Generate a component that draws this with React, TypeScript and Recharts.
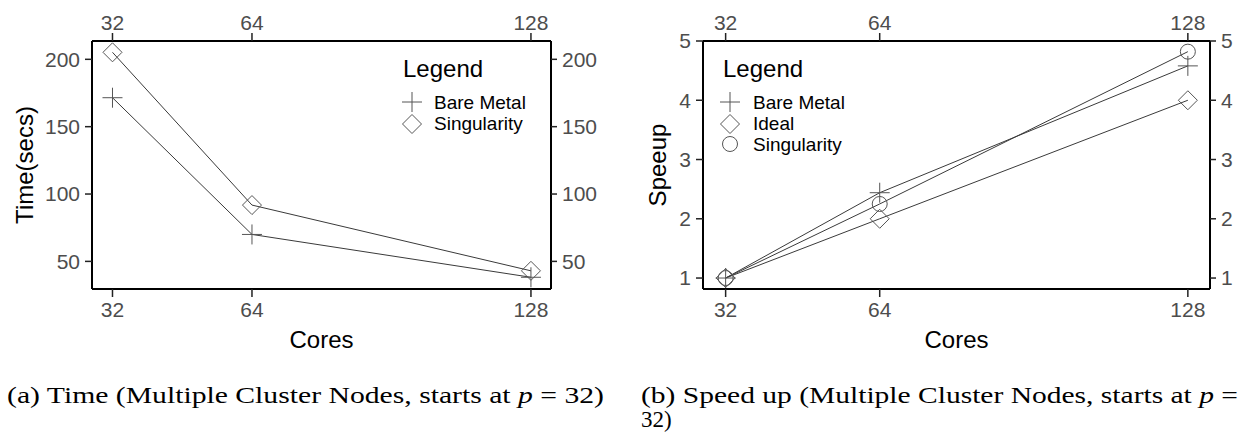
import { LineChart, Line, XAxis, YAxis } from 'recharts'

// values
const cores = [32, 64, 128]
const coreTicks = [32, 64, 128]
const coreDomain = [27.3, 132.6]

const timeBareMetal = [171.5, 70, 38.2]
const timeSingularity = [205.2, 91.8, 43]
const timeTicks = [50, 100, 150, 200]
const timeDomain = [29.5, 213.6]

const speedBareMetal = [1, 2.44, 4.58]
const speedIdeal = [1, 2, 4]
const speedSingularity = [1, 2.25, 4.82]
const speedTicks = [1, 2, 3, 4, 5]
const speedDomain = [0.815, 5]

const timeData = cores.map((c, i) => ({
  cores: c,
  bare: timeBareMetal[i],
  sing: timeSingularity[i]
}))

const speedData = cores.map((c, i) => ({
  cores: c,
  bare: speedBareMetal[i],
  ideal: speedIdeal[i],
  sing: speedSingularity[i]
}))

const SANS = '"Liberation Sans", Arial, Helvetica, sans-serif'
const SERIF = '"Liberation Serif", "Times New Roman", serif'
const LINE = '#3a3a3a'
const MARK = '#555555'
const TICK_TEXT = '#4d4d4d'

const tickStyle = { fill: TICK_TEXT, fontSize: 21, fontFamily: SANS }
const axisLine = { stroke: '#000', strokeWidth: 2 }
const tickLine = { stroke: '#222', strokeWidth: 1.5 }

function PlusMark({ cx, cy, s = 10 }: { cx: number; cy: number; s?: number }) {
  return (
    <path
      d={`M${cx - s},${cy}H${cx + s}M${cx},${cy - s}V${cy + s}`}
      stroke={MARK}
      strokeWidth={1}
      fill="none"
    />
  )
}

function DiamondMark({ cx, cy, s = 9.5 }: { cx: number; cy: number; s?: number }) {
  return (
    <path
      d={`M${cx},${cy - s}L${cx + s},${cy}L${cx},${cy + s}L${cx - s},${cy}Z`}
      stroke={MARK}
      strokeWidth={1}
      fill="none"
    />
  )
}

function RingMark({ cx, cy, r = 7.5 }: { cx: number; cy: number; r?: number }) {
  return <circle cx={cx} cy={cy} r={r} stroke={MARK} strokeWidth={1} fill="none" />
}

const plusDot = (p: any) => <PlusMark key={`p${p.index}`} cx={p.cx} cy={p.cy} />
const diamondDot = (p: any) => <DiamondMark key={`d${p.index}`} cx={p.cx} cy={p.cy} />
const ringDot = (p: any) => <RingMark key={`r${p.index}`} cx={p.cx} cy={p.cy} />

function Axes({ yTicks, yDomain, leftW, rightW, title, titleOffset }: any) {
  return [
    <XAxis
      key="xt"
      xAxisId="top"
      orientation="top"
      type="number"
      dataKey="cores"
      domain={coreDomain}
      ticks={coreTicks}
      allowDataOverflow
      height={41}
      tick={tickStyle}
      tickSize={8}
      tickMargin={3}
      axisLine={axisLine}
      tickLine={tickLine}
    />,
    <XAxis
      key="xb"
      xAxisId="bottom"
      orientation="bottom"
      type="number"
      dataKey="cores"
      domain={coreDomain}
      ticks={coreTicks}
      allowDataOverflow
      height={71}
      tick={tickStyle}
      tickSize={8}
      tickMargin={5}
      axisLine={axisLine}
      tickLine={tickLine}
      label={{ value: 'Cores', position: 'insideBottom', offset: 12, fill: '#000', fontSize: 24, fontFamily: SANS }}
    />,
    <YAxis
      key="yl"
      yAxisId="left"
      orientation="left"
      type="number"
      domain={yDomain}
      ticks={yTicks}
      allowDataOverflow
      width={leftW}
      tick={tickStyle}
      tickSize={7}
      tickMargin={5}
      axisLine={axisLine}
      tickLine={tickLine}
      label={{
        value: title,
        angle: -90,
        position: 'insideLeft',
        offset: titleOffset,
        fill: '#000',
        fontSize: 24,
        fontFamily: SANS,
        style: { textAnchor: 'middle' }
      }}
    />,
    <YAxis
      key="yr"
      yAxisId="right"
      orientation="right"
      type="number"
      domain={yDomain}
      ticks={yTicks}
      allowDataOverflow
      width={rightW}
      tick={tickStyle}
      tickSize={6}
      tickMargin={5}
      axisLine={axisLine}
      tickLine={tickLine}
    />
  ]
}

function LegendBox({ x, symX, textX, rows, items }: any) {
  return (
    <svg
      width={620}
      height={200}
      style={{ position: 'absolute', left: 0, top: 0, pointerEvents: 'none', fontFamily: SANS }}
    >
      <text x={x} y={68} fontSize={24} dominantBaseline="central" fill="#000">Legend</text>
      {items.map((it: any, i: number) => (
        <g key={it.name}>
          {it.mark === 'plus' && <PlusMark cx={symX} cy={rows[i]} />}
          {it.mark === 'diamond' && <DiamondMark cx={symX} cy={rows[i] + 1} />}
          {it.mark === 'ring' && <RingMark cx={symX} cy={rows[i]} />}
          <text x={textX} y={rows[i]} fontSize={19} dominantBaseline="central" fill="#000">
            {it.name}
          </text>
        </g>
      ))}
    </svg>
  )
}

export default function App() {
  return (
    <div
      style={{
        position: 'absolute',
        left: 0,
        top: 0,
        width: 1242,
        height: 438,
        background: '#fff',
        fontFamily: SANS,
        overflow: 'hidden'
      }}
    >
      <div style={{ position: 'absolute', left: 0, top: 0, width: 620, height: 360 }}>
        <LineChart width={620} height={360} data={timeData} margin={{ top: 0, right: 0, bottom: 0, left: 0 }}>
          {Axes({ yTicks: timeTicks, yDomain: timeDomain, leftW: 92, rightW: 69, title: 'Time(secs)', titleOffset: 24 })}
          <Line
            xAxisId="bottom"
            yAxisId="left"
            dataKey="bare"
            stroke={LINE}
            strokeWidth={1}
            dot={plusDot}
            isAnimationActive={false}
          />
          <Line
            xAxisId="bottom"
            yAxisId="left"
            dataKey="sing"
            stroke={LINE}
            strokeWidth={1}
            dot={diamondDot}
            isAnimationActive={false}
          />
        </LineChart>
        <LegendBox
          x={403}
          symX={412}
          textX={434}
          rows={[102, 123]}
          items={[
            { name: 'Bare Metal', mark: 'plus' },
            { name: 'Singularity', mark: 'diamond' }
          ]}
        />
      </div>

      <div style={{ position: 'absolute', left: 620, top: 0, width: 622, height: 360 }}>
        <LineChart width={622} height={360} data={speedData} margin={{ top: 0, right: 0, bottom: 0, left: 0 }}>
          {Axes({ yTicks: speedTicks, yDomain: speedDomain, leftW: 83, rightW: 32, title: 'Speeup', titleOffset: 37 })}
          <Line
            xAxisId="bottom"
            yAxisId="left"
            dataKey="bare"
            stroke={LINE}
            strokeWidth={1}
            dot={plusDot}
            isAnimationActive={false}
          />
          <Line
            xAxisId="bottom"
            yAxisId="left"
            dataKey="ideal"
            stroke={LINE}
            strokeWidth={1}
            dot={diamondDot}
            isAnimationActive={false}
          />
          <Line
            xAxisId="bottom"
            yAxisId="left"
            dataKey="sing"
            stroke={LINE}
            strokeWidth={1}
            dot={ringDot}
            isAnimationActive={false}
          />
        </LineChart>
        <LegendBox
          x={103}
          symX={110}
          textX={133}
          rows={[102, 123, 144]}
          items={[
            { name: 'Bare Metal', mark: 'plus' },
            { name: 'Ideal', mark: 'diamond' },
            { name: 'Singularity', mark: 'ring' }
          ]}
        />
      </div>

      <svg
        width={1242}
        height={78}
        style={{ position: 'absolute', left: 0, top: 360, fontFamily: SERIF }}
      >
        <text x={7} y={43} fontSize={23} fill="#000" textLength={597} lengthAdjust="spacingAndGlyphs">
          (a) Time (Multiple Cluster Nodes, starts at <tspan fontStyle="italic">p</tspan> = 32)
        </text>
        <text x={641} y={43} fontSize={23} fill="#000" textLength={597} lengthAdjust="spacingAndGlyphs">
          (b) Speed up (Multiple Cluster Nodes, starts at <tspan fontStyle="italic">p</tspan> =
        </text>
        <text x={641} y={67} fontSize={23} fill="#000">
          32)
        </text>
      </svg>
    </div>
  )
}
